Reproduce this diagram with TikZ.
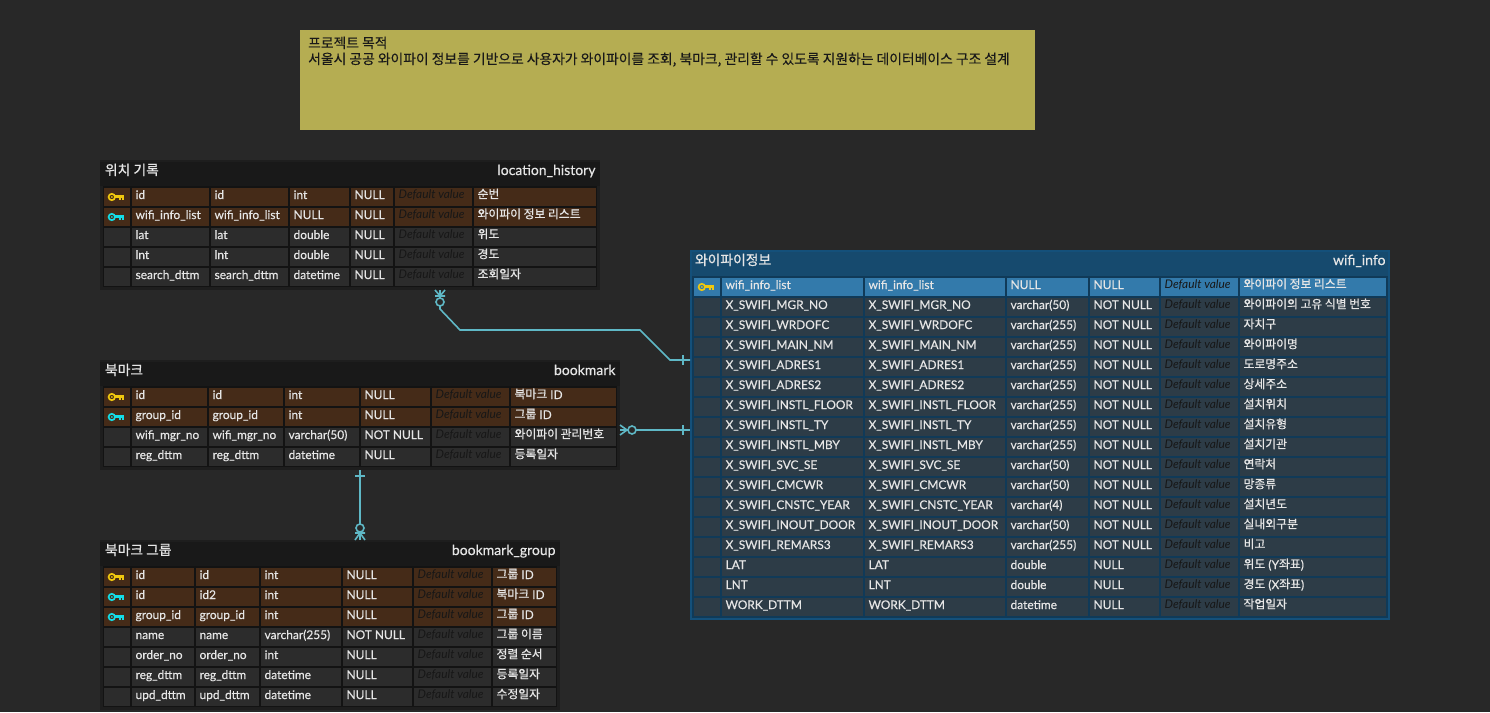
\documentclass[tikz,border=0pt]{standalone}
\usepackage{fontspec}
\setmainfont{Lato}[FakeBold=0.4]
\newfontfamily\defont{Lato}
\newfontfamily\krfont{Noto Sans CJK KR}[FakeBold=0.9]
\newfontfamily\krmemo{Noto Sans CJK KR}[FakeBold=0.2]
\newcommand{\kr}[1]{\raisebox{0.7pt}{\krfont\fontsize{11.8pt}{14pt}\selectfont #1}}
\newcommand{\krt}[1]{{\krfont\fontsize{13.8pt}{16pt}\selectfont #1}}
\definecolor{bgc}{HTML}{282828}
\definecolor{tblouter}{HTML}{1E1E1E}
\definecolor{tblhead}{HTML}{191919}
\definecolor{tblband}{HTML}{131313}
\definecolor{rowplain}{HTML}{2C2C2C}
\definecolor{rowpk}{HTML}{452B18}
\definecolor{wifiouter}{HTML}{14507A}
\definecolor{wifihead}{HTML}{164A6E}
\definecolor{wifiband}{HTML}{103A58}
\definecolor{wifirow}{HTML}{2D3C47}
\definecolor{wifipk}{HTML}{337AAB}
\definecolor{memoc}{HTML}{B5AD52}
\definecolor{linkc}{HTML}{5FB8C6}
\definecolor{txtc}{HTML}{E6E6E6}
\definecolor{defc}{HTML}{171717}
\definecolor{keyy}{HTML}{F0C80E}
\definecolor{keyc}{HTML}{14DCE6}
\tikzset{
  celltext/.style={anchor=base west,inner sep=0pt,outer sep=0pt,text=txtc,font=\fontsize{11.9pt}{14pt}\selectfont},
  deftext/.style={anchor=base west,inner sep=0pt,outer sep=0pt,text=defc,font=\defont\fontsize{11.9pt}{14pt}\selectfont\itshape,yshift=0.7pt},
  tabletitle/.style={inner sep=0pt,outer sep=0pt,text=txtc,font=\fontsize{14pt}{16pt}\selectfont},
  panel/.style={rectangle,inner sep=0pt,outer sep=0pt,anchor=north west},
  memotext/.style={inner sep=0pt,anchor=base west,text=black!90,font=\krmemo\fontsize{13.8pt}{15pt}\selectfont},
  link/.style={draw=linkc,line width=1.6pt,line join=miter},
  ring/.style={draw=linkc,line width=1.6pt,fill=bgc},
}
% key icon: centre x, centre y, colour
\newcommand{\keyicon}[3]{%
  \begin{scope}[shift={(#1,#2)}]
    \draw[#3,line width=1.7pt] (-4.2,0) circle[radius=3.2pt];
    \fill[#3] (-4.2,0) circle[radius=1pt];
    \fill[#3] (-1,-1.6) rectangle (8,0.6);
    \fill[#3] (3.4,0) rectangle (5.2,3.4);
    \fill[#3] (6.2,0) rectangle (8,3.4);
  \end{scope}}
% \setcols{name}{key left}{key right}{c1 right}{c2 right}{c3 right}{c4 right}{c5 right}{c6 right}
\newcommand{\setcols}[9]{\def\tn{#1}\def\ka{#2}\def\kb{#3}\def\cra{#4}\def\crb{#5}\def\crc{#6}\def\crd{#7}\def\cre{#8}\def\crf{#9}}
\newcommand{\cell}[5]{% left right text-style column text
  \fill[\thisfill] (#1,\ytop) rectangle (#2,\ybot);
  \node[#3] (\tn r\rowi c#4) at ({#1+3.6},\ybase) {\vphantom{g}#5};}
% \trow{top}{row}{fill}{key}{c1}{c2}{c3}{c4}{c6}
\newcommand{\trow}[9]{%
  \def\rowi{#2}\def\thisfill{#3}%
  \pgfmathsetmacro{\ytop}{#1+20*#2}\pgfmathsetmacro{\ybot}{\ytop+18}\pgfmathsetmacro{\ybase}{\ytop+11}%
  \pgfmathsetmacro{\ycen}{\ytop+9}\pgfmathsetmacro{\kcen}{\ka+12}%
  \fill[\thisfill] (\ka,\ytop) rectangle (\kb,\ybot);
  #4
  \pgfmathsetmacro{\la}{\kb+2}\pgfmathsetmacro{\lb}{\cra+2}\pgfmathsetmacro{\lc}{\crb+2}\pgfmathsetmacro{\ld}{\crc+2}\pgfmathsetmacro{\le}{\crd+2}\pgfmathsetmacro{\lf}{\cre+2}%
  \cell{\la}{\cra}{celltext}{1}{#5}
  \cell{\lb}{\crb}{celltext}{2}{#6}
  \cell{\lc}{\crc}{celltext}{3}{#7}
  \cell{\ld}{\crd}{celltext}{4}{#8}
  \cell{\le}{\cre}{deftext}{5}{Default value}
  \cell{\lf}{\crf}{celltext}{6}{#9}
}
\newcommand{\ky}{\keyicon{\kcen}{\ycen}{keyy}}
\newcommand{\kc}{\keyicon{\kcen}{\ycen}{keyc}}
\begin{document}
\begin{tikzpicture}[x=1pt,y=-1pt]
\useasboundingbox (0,0) rectangle (1490,712);
\fill[bgc] (0,0) rectangle (1490,712);

% memo
\node[panel,fill=memoc,minimum width=735pt,minimum height=100pt] (memo) at (300,30) {};
\node[memotext] (memoa) at (308,48) {프로젝트 목적};
\node[memotext] (memob) at (308,64) {서울시 공공 와이파이 정보를 기반으로 사용자가 와이파이를 조회, 북마크, 관리할 수 있도록 지원하는 데이터베이스 구조 설계};

% location_history
\node[panel,fill=tblouter,minimum width=500pt,minimum height=130pt] (loc) at (100,160) {};
\fill[tblhead] (100,162) rectangle (600,186);
\fill[tblband] (103,186) rectangle (597,287);
\node[tabletitle,anchor=base west] (loctk) at (105,175) {\krt{위치 기록}};
\node[tabletitle,anchor=base east] (locte) at (595.5,175) {location\_history};
\setcols{loc}{104}{130}{209}{288}{349}{393}{472}{596}
\trow{188}{0}{rowpk}{\ky}{id}{id}{int}{NULL}{\kr{순번}}
\trow{188}{1}{rowpk}{\kc}{wifi\_info\_list}{wifi\_info\_list}{NULL}{NULL}{\kr{와이파이 정보 리스트}}
\trow{188}{2}{rowplain}{}{lat}{lat}{double}{NULL}{\kr{위도}}
\trow{188}{3}{rowplain}{}{lnt}{lnt}{double}{NULL}{\kr{경도}}
\trow{188}{4}{rowplain}{}{search\_dttm}{search\_dttm}{datetime}{NULL}{\kr{조회일자}}

% bookmark
\node[panel,fill=tblouter,minimum width=520pt,minimum height=110pt] (bm) at (100,360) {};
\fill[tblhead] (100,362) rectangle (620,386);
\fill[tblband] (103,386) rectangle (617,467);
\node[tabletitle,anchor=base west] (bmtk) at (105,375) {\krt{북마크}};
\node[tabletitle,anchor=base east] (bmte) at (615.5,375) {bookmark};
\setcols{bm}{104}{130}{207}{283}{359}{430}{509}{616}
\trow{388}{0}{rowpk}{\ky}{id}{id}{int}{NULL}{\kr{북마크} ID}
\trow{388}{1}{rowpk}{\kc}{group\_id}{group\_id}{int}{NULL}{\kr{그룹} ID}
\trow{388}{2}{rowplain}{}{wifi\_mgr\_no}{wifi\_mgr\_no}{varchar(50)}{NOT NULL}{\kr{와이파이 관리번호}}
\trow{388}{3}{rowplain}{}{reg\_dttm}{reg\_dttm}{datetime}{NULL}{\kr{등록일자}}

% bookmark_group
\node[panel,fill=tblouter,minimum width=460pt,minimum height=170pt] (bg) at (100,540) {};
\fill[tblhead] (100,542) rectangle (560,566);
\fill[tblband] (103,566) rectangle (557,707);
\node[tabletitle,anchor=base west] (bgtk) at (105,555) {\krt{북마크 그룹}};
\node[tabletitle,anchor=base east] (bgte) at (555.5,555) {bookmark\_group};
\setcols{bg}{104}{130}{194}{259}{341}{412}{491}{556}
\trow{568}{0}{rowpk}{\ky}{id}{id}{int}{NULL}{\kr{그룹} ID}
\trow{568}{1}{rowpk}{\kc}{id}{id2}{int}{NULL}{\kr{북마크} ID}
\trow{568}{2}{rowpk}{\kc}{group\_id}{group\_id}{int}{NULL}{\kr{그룹} ID}
\trow{568}{3}{rowplain}{}{name}{name}{varchar(255)}{NOT NULL}{\kr{그룹 이름}}
\trow{568}{4}{rowplain}{}{order\_no}{order\_no}{int}{NULL}{\kr{정렬 순서}}
\trow{568}{5}{rowplain}{}{reg\_dttm}{reg\_dttm}{datetime}{NULL}{\kr{등록일자}}
\trow{568}{6}{rowplain}{}{upd\_dttm}{upd\_dttm}{datetime}{NULL}{\kr{수정일자}}

% wifi_info
\node[panel,fill=wifiouter,minimum width=700pt,minimum height=370pt] (wf) at (690,250) {};
\fill[wifihead] (692,252) rectangle (1388,276);
\fill[wifiband] (692,276) rectangle (1388,618);
\node[tabletitle,anchor=base west] (wftk) at (695,265) {\krt{와이파이정보}};
\node[tabletitle,anchor=base east] (wfte) at (1385.5,265) {wifi\_info};
\setcols{wf}{694}{720}{863}{1005}{1088}{1159}{1238}{1386}
\trow{278}{0}{wifipk}{\ky}{wifi\_info\_list}{wifi\_info\_list}{NULL}{NULL}{\kr{와이파이 정보 리스트}}
\trow{278}{1}{wifirow}{}{X\_SWIFI\_MGR\_NO}{X\_SWIFI\_MGR\_NO}{varchar(50)}{NOT NULL}{\kr{와이파이의 고유 식별 번호}}
\trow{278}{2}{wifirow}{}{X\_SWIFI\_WRDOFC}{X\_SWIFI\_WRDOFC}{varchar(255)}{NOT NULL}{\kr{자치구}}
\trow{278}{3}{wifirow}{}{X\_SWIFI\_MAIN\_NM}{X\_SWIFI\_MAIN\_NM}{varchar(255)}{NOT NULL}{\kr{와이파이명}}
\trow{278}{4}{wifirow}{}{X\_SWIFI\_ADRES1}{X\_SWIFI\_ADRES1}{varchar(255)}{NOT NULL}{\kr{도로명주소}}
\trow{278}{5}{wifirow}{}{X\_SWIFI\_ADRES2}{X\_SWIFI\_ADRES2}{varchar(255)}{NOT NULL}{\kr{상세주소}}
\trow{278}{6}{wifirow}{}{X\_SWIFI\_INSTL\_FLOOR}{X\_SWIFI\_INSTL\_FLOOR}{varchar(255)}{NOT NULL}{\kr{설치위치}}
\trow{278}{7}{wifirow}{}{X\_SWIFI\_INSTL\_TY}{X\_SWIFI\_INSTL\_TY}{varchar(255)}{NOT NULL}{\kr{설치유형}}
\trow{278}{8}{wifirow}{}{X\_SWIFI\_INSTL\_MBY}{X\_SWIFI\_INSTL\_MBY}{varchar(255)}{NOT NULL}{\kr{설치기관}}
\trow{278}{9}{wifirow}{}{X\_SWIFI\_SVC\_SE}{X\_SWIFI\_SVC\_SE}{varchar(50)}{NOT NULL}{\kr{연락처}}
\trow{278}{10}{wifirow}{}{X\_SWIFI\_CMCWR}{X\_SWIFI\_CMCWR}{varchar(50)}{NOT NULL}{\kr{망종류}}
\trow{278}{11}{wifirow}{}{X\_SWIFI\_CNSTC\_YEAR}{X\_SWIFI\_CNSTC\_YEAR}{varchar(4)}{NOT NULL}{\kr{설치년도}}
\trow{278}{12}{wifirow}{}{X\_SWIFI\_INOUT\_DOOR}{X\_SWIFI\_INOUT\_DOOR}{varchar(50)}{NOT NULL}{\kr{실내외구분}}
\trow{278}{13}{wifirow}{}{X\_SWIFI\_REMARS3}{X\_SWIFI\_REMARS3}{varchar(255)}{NOT NULL}{\kr{비고}}
\trow{278}{14}{wifirow}{}{LAT}{LAT}{double}{NULL}{\kr{위도} (Y\kr{좌표})}
\trow{278}{15}{wifirow}{}{LNT}{LNT}{double}{NULL}{\kr{경도} (X\kr{좌표})}
\trow{278}{16}{wifirow}{}{WORK\_DTTM}{WORK\_DTTM}{datetime}{NULL}{\kr{작업일자}}

% connector ends on the table edges
\coordinate (pa) at (loc.south west -| 440,0);
\coordinate (pb) at (wf.north west |- 0,360);
\coordinate (pc) at (bm.north east |- 0,430);
\coordinate (pd) at (wf.north west |- 0,430);
\coordinate (pe) at (bm.south west -| 360,0);
\coordinate (pf) at (bg.north west -| 360,0);

% location_history -- wifi_info
\draw[link] (pa) -- ++(0,19) -- ++(20,21) -- ++(180,0) -- ++(30,30) -- (pb);
\draw[link] (pa) ++(-5,0) -- ++(5,6) -- ++(5,-6) (pa) ++(-5,6) -- ++(10,0);
\draw[ring] (pa) ++(0,12) circle[radius=4pt];
\draw[link] (pb) ++(-7,-5) -- ++(0,10);

% bookmark -- wifi_info
\draw[link] (pc) -- (pd);
\draw[link] (pc) ++(0,-5) -- ++(7,5) -- ++(-7,5);
\draw[ring] (pc) ++(12,0) circle[radius=4pt];
\draw[link] (pd) ++(-7,-5) -- ++(0,10);

% bookmark -- bookmark_group
\draw[link] (pe) -- (pf);
\draw[link] (pe) ++(-5,6) -- ++(10,0);
\draw[link] (pf) ++(-5,0) -- ++(5,-7) -- ++(5,7) (pf) ++(-5,-7) -- ++(10,0);
\draw[ring] (pf) ++(0,-12) circle[radius=4pt];
\end{tikzpicture}
\end{document}
